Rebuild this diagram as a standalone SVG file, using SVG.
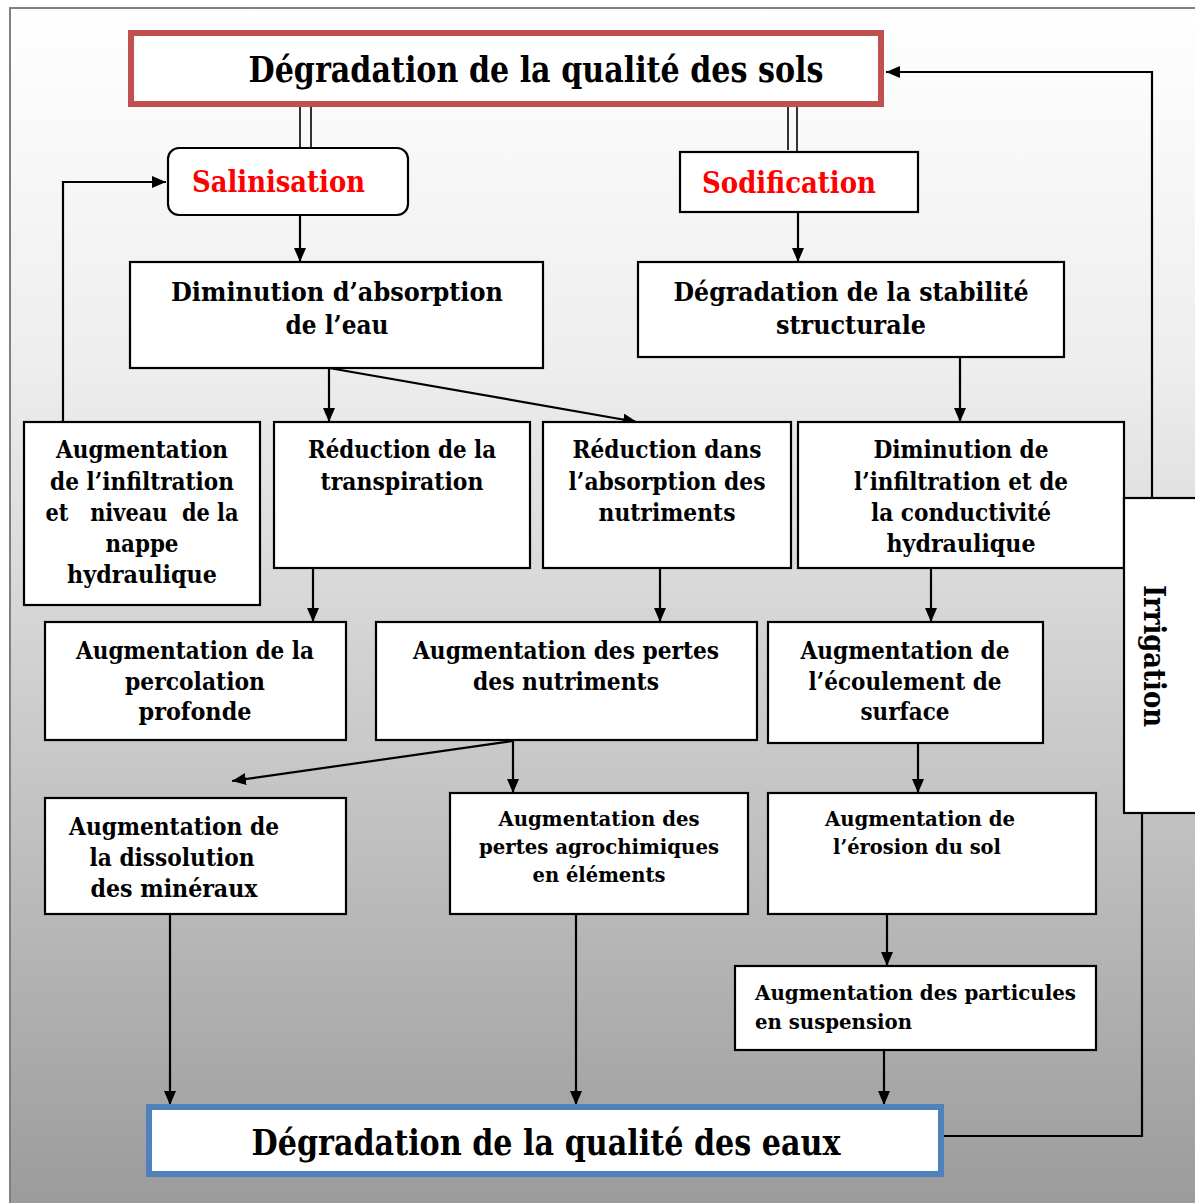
<svg xmlns="http://www.w3.org/2000/svg" width="1195" height="1203" viewBox="0 0 1195 1203">
<style>
.t{font-family:"DejaVu Serif","Liberation Serif",serif;font-weight:bold;fill:#000;text-anchor:middle}
.tl{font-family:"DejaVu Serif","Liberation Serif",serif;font-weight:bold;fill:#000}
.red{fill:#ff0000}
.box{fill:#fff;stroke:#000;stroke-width:2.2}
.ln{fill:none;stroke:#000;stroke-width:2.2}
.thin{fill:none;stroke:#000;stroke-width:1.6}
.f27{font-size:26px}
.f25{font-size:24px}
.f22{font-size:21px}
</style>
<defs>
<linearGradient id="bg" x1="0" y1="0" x2="0" y2="1">
<stop offset="0" stop-color="#ffffff"/>
<stop offset="0.3" stop-color="#ededed"/>
<stop offset="0.5" stop-color="#d6d6d6"/>
<stop offset="0.7" stop-color="#bebebe"/>
<stop offset="1" stop-color="#9a9a9a"/>
</linearGradient>
<marker id="ah" markerUnits="userSpaceOnUse" markerWidth="14" markerHeight="12" viewBox="0 0 14 12" refX="14" refY="6" orient="auto">
<path d="M0,0 L14,6 L0,12 z" fill="#000"/>
</marker>
</defs>
<rect x="0" y="0" width="1195" height="1203" fill="#fff"/>
<rect x="10" y="8" width="1200" height="1210" fill="url(#bg)" stroke="#808080" stroke-width="2"/>

<g id="connectors">
<line class="thin" x1="300" y1="107" x2="300" y2="148"/>
<line class="thin" x1="311" y1="107" x2="311" y2="148"/>
<line class="thin" x1="788" y1="107" x2="788" y2="150"/>
<line class="thin" x1="797" y1="107" x2="797" y2="152"/>
<polyline class="ln" points="63,422 63,182 166,182" marker-end="url(#ah)"/>
<line class="ln" x1="300" y1="215" x2="300" y2="262" marker-end="url(#ah)"/>
<line class="ln" x1="798" y1="212" x2="798" y2="262" marker-end="url(#ah)"/>
<line class="ln" x1="329" y1="368" x2="329" y2="422" marker-end="url(#ah)"/>
<line class="ln" x1="329" y1="368" x2="637" y2="422" marker-end="url(#ah)"/>
<line class="ln" x1="960" y1="357" x2="960" y2="422" marker-end="url(#ah)"/>
<line class="ln" x1="313" y1="568" x2="313" y2="622" marker-end="url(#ah)"/>
<line class="ln" x1="660" y1="568" x2="660" y2="622" marker-end="url(#ah)"/>
<line class="ln" x1="931" y1="568" x2="931" y2="622" marker-end="url(#ah)"/>
<line class="ln" x1="513" y1="741" x2="232" y2="781" marker-end="url(#ah)"/>
<line class="ln" x1="513" y1="741" x2="513" y2="793" marker-end="url(#ah)"/>
<line class="ln" x1="918" y1="743" x2="918" y2="793" marker-end="url(#ah)"/>
<line class="ln" x1="887" y1="914" x2="887" y2="966" marker-end="url(#ah)"/>
<line class="ln" x1="170" y1="914" x2="170" y2="1105" marker-end="url(#ah)"/>
<line class="ln" x1="576" y1="914" x2="576" y2="1105" marker-end="url(#ah)"/>
<line class="ln" x1="884" y1="1050" x2="884" y2="1105" marker-end="url(#ah)"/>
<polyline class="ln" points="1152,498 1152,72 886,72" marker-end="url(#ah)"/>
<polyline class="ln" points="1142,813 1142,1136 944,1136"/>
</g>

<g id="n-sols">
<rect x="131" y="33" width="750" height="71" fill="#fff" stroke="#c0504d" stroke-width="6"/>
<text class="t" x="536" y="82" font-size="35" textLength="575" lengthAdjust="spacingAndGlyphs">Dégradation de la qualité des sols</text>
</g>

<g id="n-salinisation">
<rect x="168" y="148" width="240" height="67" rx="11" class="box"/>
<text class="tl red" x="192" y="192" font-size="29" textLength="173" lengthAdjust="spacingAndGlyphs">Salinisation</text>
</g>

<g id="n-sodification">
<rect x="680" y="152" width="238" height="60" class="box"/>
<text class="tl red" x="702" y="193" font-size="29" textLength="174" lengthAdjust="spacingAndGlyphs">Sodification</text>
</g>

<g id="n-absorption-eau">
<rect x="130" y="262" width="413" height="106" class="box"/>
<text class="t f27" x="337" y="301" textLength="332" lengthAdjust="spacingAndGlyphs">Diminution d’absorption</text>
<text class="t f27" x="337" y="334" textLength="103" lengthAdjust="spacingAndGlyphs">de l’eau</text>
</g>

<g id="n-stabilite">
<rect x="638" y="262" width="426" height="95" class="box"/>
<text class="t f27" x="851" y="301" textLength="355" lengthAdjust="spacingAndGlyphs">Dégradation de la stabilité</text>
<text class="t f27" x="851" y="334" textLength="150" lengthAdjust="spacingAndGlyphs">structurale</text>
</g>

<g id="n-infiltration-nappe">
<rect x="24" y="422" width="236" height="183" class="box"/>
<text class="t f25" x="142" y="458" textLength="172" lengthAdjust="spacingAndGlyphs">Augmentation</text>
<text class="t f25" x="142" y="490" textLength="184" lengthAdjust="spacingAndGlyphs">de l’infiltration</text>
<text class="t f25" x="142" y="521" textLength="193" lengthAdjust="spacingAndGlyphs" style="white-space:pre">et   niveau  de la</text>
<text class="t f25" x="142" y="552" textLength="73" lengthAdjust="spacingAndGlyphs">nappe</text>
<text class="t f25" x="142" y="583" textLength="150" lengthAdjust="spacingAndGlyphs">hydraulique</text>
</g>

<g id="n-transpiration">
<rect x="274" y="422" width="256" height="146" class="box"/>
<text class="t f25" x="402" y="458" textLength="188" lengthAdjust="spacingAndGlyphs">Réduction de la</text>
<text class="t f25" x="402" y="490" textLength="163" lengthAdjust="spacingAndGlyphs">transpiration</text>
</g>

<g id="n-absorption-nutriments">
<rect x="543" y="422" width="248" height="146" class="box"/>
<text class="t f25" x="667" y="458" textLength="189" lengthAdjust="spacingAndGlyphs">Réduction dans</text>
<text class="t f25" x="667" y="490" textLength="197" lengthAdjust="spacingAndGlyphs">l’absorption des</text>
<text class="t f25" x="667" y="521" textLength="137" lengthAdjust="spacingAndGlyphs">nutriments</text>
</g>

<g id="n-infiltration-conductivite">
<rect x="798" y="422" width="326" height="146" class="box"/>
<text class="t f25" x="961" y="458" textLength="175" lengthAdjust="spacingAndGlyphs">Diminution de</text>
<text class="t f25" x="961" y="490" textLength="214" lengthAdjust="spacingAndGlyphs">l’infiltration et de</text>
<text class="t f25" x="961" y="521" textLength="180" lengthAdjust="spacingAndGlyphs">la conductivité</text>
<text class="t f25" x="961" y="552" textLength="149" lengthAdjust="spacingAndGlyphs">hydraulique</text>
</g>

<g id="n-irrigation">
<rect x="1124" y="498" width="80" height="315" class="box"/>
<text class="t" transform="translate(1144,656) rotate(90)" font-size="30" textLength="142" lengthAdjust="spacingAndGlyphs">Irrigation</text>
</g>

<g id="n-percolation">
<rect x="45" y="622" width="301" height="118" class="box"/>
<text class="t f25" x="195" y="659" textLength="238" lengthAdjust="spacingAndGlyphs">Augmentation de la</text>
<text class="t f25" x="195" y="690" textLength="140" lengthAdjust="spacingAndGlyphs">percolation</text>
<text class="t f25" x="195" y="720" textLength="113" lengthAdjust="spacingAndGlyphs">profonde</text>
</g>

<g id="n-pertes-nutriments">
<rect x="376" y="622" width="381" height="118" class="box"/>
<text class="t f25" x="566" y="659" textLength="306" lengthAdjust="spacingAndGlyphs">Augmentation des pertes</text>
<text class="t f25" x="566" y="690" textLength="186" lengthAdjust="spacingAndGlyphs">des nutriments</text>
</g>

<g id="n-ecoulement">
<rect x="768" y="622" width="275" height="121" class="box"/>
<text class="t f25" x="905" y="659" textLength="209" lengthAdjust="spacingAndGlyphs">Augmentation de</text>
<text class="t f25" x="905" y="690" textLength="193" lengthAdjust="spacingAndGlyphs">l’écoulement de</text>
<text class="t f25" x="905" y="720" textLength="89" lengthAdjust="spacingAndGlyphs">surface</text>
</g>

<g id="n-dissolution">
<rect x="45" y="798" width="301" height="116" class="box"/>
<text class="t f25" x="174" y="835" textLength="210" lengthAdjust="spacingAndGlyphs">Augmentation de</text>
<text class="t f25" x="172" y="866" textLength="165" lengthAdjust="spacingAndGlyphs">la dissolution</text>
<text class="t f25" x="174" y="897" textLength="167" lengthAdjust="spacingAndGlyphs">des minéraux</text>
</g>

<g id="n-agrochimiques">
<rect x="450" y="793" width="298" height="121" class="box"/>
<text class="t f22" x="599" y="826" textLength="201" lengthAdjust="spacingAndGlyphs">Augmentation des</text>
<text class="t f22" x="599" y="854" textLength="240" lengthAdjust="spacingAndGlyphs">pertes agrochimiques</text>
<text class="t f22" x="599" y="882" textLength="133" lengthAdjust="spacingAndGlyphs">en éléments</text>
</g>

<g id="n-erosion">
<rect x="768" y="793" width="328" height="121" class="box"/>
<text class="t f22" x="920" y="826" textLength="190" lengthAdjust="spacingAndGlyphs">Augmentation de</text>
<text class="t f22" x="917" y="854" textLength="168" lengthAdjust="spacingAndGlyphs">l’érosion du sol</text>
</g>

<g id="n-particules">
<rect x="735" y="966" width="361" height="84" class="box"/>
<text class="tl f22" x="755" y="1000" textLength="321" lengthAdjust="spacingAndGlyphs">Augmentation des particules</text>
<text class="tl f22" x="755" y="1029" textLength="157" lengthAdjust="spacingAndGlyphs">en suspension</text>
</g>

<g id="n-eaux">
<rect x="149" y="1107" width="792" height="67" fill="#fff" stroke="#4f81bd" stroke-width="6"/>
<text class="t" x="546" y="1155" font-size="35" textLength="589" lengthAdjust="spacingAndGlyphs">Dégradation de la qualité des eaux</text>
</g>
</svg>
